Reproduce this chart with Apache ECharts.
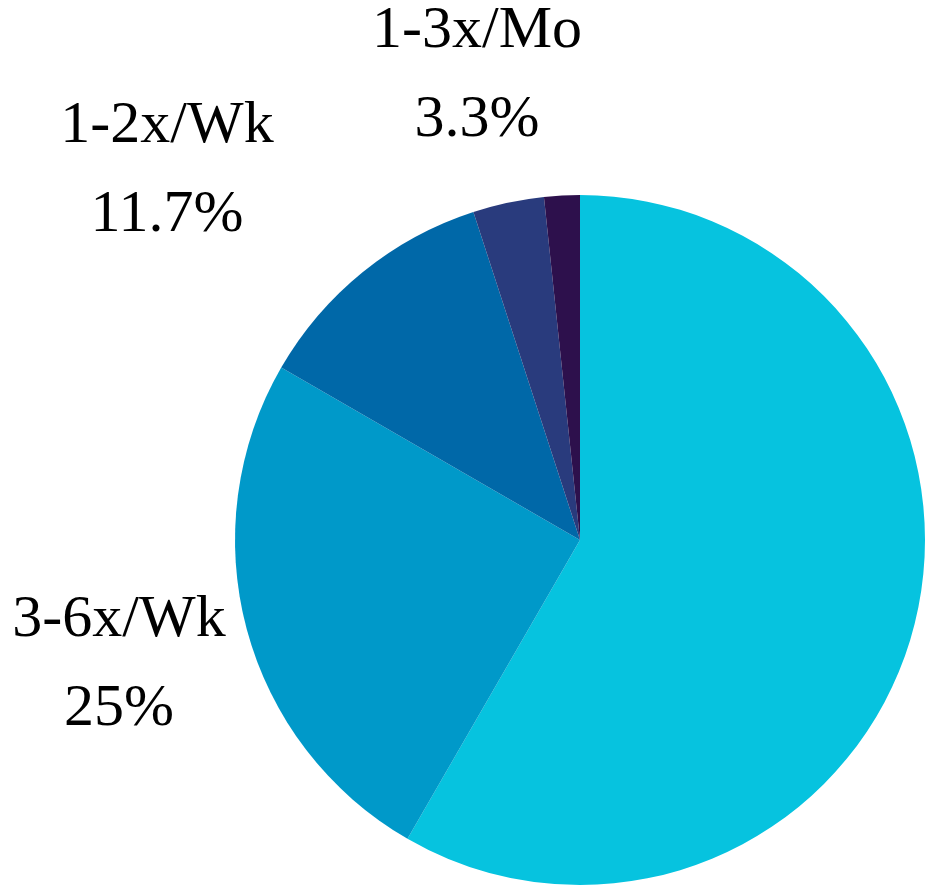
<!DOCTYPE html>
<html>
<head>
<meta charset="utf-8">
<script src="https://cdn.jsdelivr.net/npm/echarts@6/dist/echarts.min.js"></script>
<style>
  html, body { margin: 0; padding: 0; background: #ffffff; }
  #chart { width: 930px; height: 886px; }
</style>
</head>
<body>
<div id="chart"></div>
<script>
// Data
const categories = ['Daily', '3-6x/Wk', '1-2x/Wk', '1-3x/Mo', '<1x/Mo'];
const counts = [35, 15, 7, 2, 1];
const showLabel = [false, true, true, true, false];

// Styles
const colors = ['#06C3DF', '#0099C9', '#0068A8', '#293B7D', '#2D104C'];
const labelAnchors = {1: [119, 665], 2: [167, 171], 3: [477, 76]};

const chart = echarts.init(document.getElementById('chart'));
chart.setOption({
  animation: false,
  series: [{
    type: 'pie',
    center: [580, 540],
    radius: [0, 345],
    startAngle: 90,
    clockwise: true,
    percentPrecision: 1,
    avoidLabelOverlap: false,
    itemStyle: { borderWidth: 0 },
    label: {
      show: true,
      position: 'outside',
      formatter: '{b}\n{d}%',
      fontFamily: 'Liberation Serif',
      fontSize: 60,
      lineHeight: 89,
      color: '#000000',
      align: 'center'
    },
    labelLine: { show: false },
    labelLayout: function (params) {
      const a = labelAnchors[params.dataIndex];
      if (!a) return {};
      return { x: a[0], y: a[1], align: 'center', verticalAlign: 'middle' };
    },
    emphasis: { disabled: true },
    data: categories.map((c, i) => ({
      name: c,
      value: counts[i],
      itemStyle: { color: colors[i] },
      label: { show: showLabel[i] }
    }))
  }]
});
</script>
</body>
</html>
